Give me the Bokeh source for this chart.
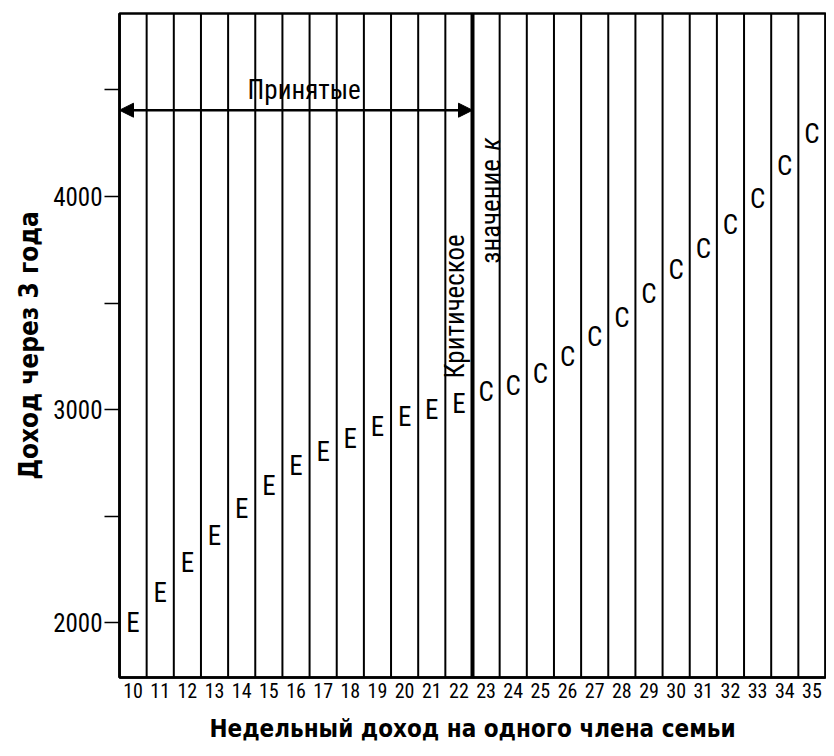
import math
from bokeh.plotting import figure
from bokeh.models import Range1d, Span, Arrow, NormalHead, Label, FixedTicker, ColumnDataSource
from bokeh.core.properties import value
from bokeh.embed import file_html
from bokeh.resources import INLINE

# ---- data ----
incomes = [10, 11, 12, 13, 14, 15, 16, 17, 18, 19, 20, 21, 22,
           23, 24, 25, 26, 27, 28, 29, 30, 31, 32, 33, 34, 35]
income_3yr = [2000, 2140, 2280, 2405, 2535, 2640, 2735, 2800, 2860, 2920, 2965, 3000, 3025,
              3080, 3110, 3165, 3245, 3340, 3430, 3540, 3655, 3755, 3865, 3990, 4145, 4295]
letters = ["E", "E", "E", "E", "E", "E", "E", "E", "E", "E", "E", "E", "E",
           "C", "C", "C", "C", "C", "C", "C", "C", "C", "C", "C", "C", "C"]
y_ticks = [2000, 2500, 3000, 3500, 4000, 4500]
y_tick_labels = {2000: "2000", 2500: "", 3000: "3000", 3500: "", 4000: "4000", 4500: ""}
critical_k = 22.5
accepted_y = 4405
title_x = "Недельный доход на одного члена семьи"
title_y = "Доход через 3 года"

FONT = "DejaVu Sans Condensed"
NARROW = "Roboto Condensed"

p = figure(width=826, height=748, output_backend="svg", toolbar_location=None,
           x_range=Range1d(incomes[0] - 0.5, incomes[-1] + 0.5),
           y_range=Range1d(1742, 4859),
           min_border_left=119, min_border_right=1, min_border_top=13, min_border_bottom=71)
p.grid.visible = False
p.outline_line_color = "black"
p.outline_line_width = 2.5
p.background_fill_color = "white"
p.border_fill_color = "white"

# column boundary lines
bounds = [c - 0.5 for c in incomes] + [incomes[-1] + 0.5]
for b in bounds:
    w = 4 if abs(b - critical_k) < 1e-9 else 2
    p.add_layout(Span(location=b, dimension="height", line_color="black", line_width=w))

src = ColumnDataSource(dict(x=incomes, y=income_3yr, t=letters))
p.text(x="x", y="y", text="t", source=src, text_align="center", text_baseline="middle",
       text_font=value(NARROW), text_font_size="27px", text_color="black")

# arrow "Принятые"
p.add_layout(Arrow(x_start=incomes[0] - 0.5, x_end=critical_k, y_start=accepted_y, y_end=accepted_y,
                   line_width=2.5, line_color="black",
                   start=NormalHead(size=14, fill_color="black", line_color="black"),
                   end=NormalHead(size=14, fill_color="black", line_color="black")))
p.add_layout(Label(x=(incomes[0] - 0.5 + critical_k) / 2 + 0.3, y=accepted_y, y_offset=4,
                   text="Принятые", text_align="center", text_baseline="bottom",
                   text_font=NARROW, text_font_size="27px", text_color="black"))

# critical value labels
p.add_layout(Label(x=critical_k, y=3484, x_offset=-2, angle=math.pi / 2,
                   text="Критическое", text_align="center", text_baseline="bottom",
                   text_font=NARROW, text_font_size="27px", text_color="black"))
p.add_layout(Label(x=critical_k, y=3930, x_offset=2, angle=math.pi / 2,
                   text="значение", text_align="center", text_baseline="top",
                   text_font=NARROW, text_font_size="27px", text_color="black"))
p.add_layout(Label(x=critical_k, y=4245, x_offset=2, angle=math.pi / 2,
                   text="к", text_align="center", text_baseline="top",
                   text_font=NARROW, text_font_style="italic",
                   text_font_size="27px", text_color="black"))

# axes
p.xaxis.ticker = FixedTicker(ticks=incomes)
p.xaxis.major_tick_out = 0
p.xaxis.major_tick_in = 0
p.xaxis.minor_tick_line_color = None
p.xaxis.axis_line_width = 2.5
p.xaxis.major_label_standoff = 5
p.xaxis.major_label_text_font = NARROW
p.xaxis.major_label_text_font_size = "20px"
p.xaxis.major_label_text_color = "black"
p.xaxis.axis_label = title_x
p.xaxis.axis_label_text_font = FONT
p.xaxis.axis_label_text_font_style = "bold"
p.xaxis.axis_label_text_font_size = "24px"
p.xaxis.axis_label_text_color = "black"
p.xaxis.axis_label_standoff = 14

p.yaxis.ticker = FixedTicker(ticks=y_ticks)
p.yaxis.major_label_overrides = y_tick_labels
p.yaxis.minor_tick_line_color = None
p.yaxis.major_tick_out = 15
p.yaxis.major_tick_in = 0
p.yaxis.major_tick_line_width = 1.5
p.yaxis.axis_line_width = 2.5
p.yaxis.major_label_standoff = 2
p.yaxis.major_label_text_font = NARROW
p.yaxis.major_label_text_font_size = "25px"
p.yaxis.major_label_text_color = "black"
p.yaxis.axis_label = title_y
p.yaxis.axis_label_text_font = FONT
p.yaxis.axis_label_text_font_style = "bold"
p.yaxis.axis_label_text_font_size = "26px"
p.yaxis.axis_label_text_color = "black"
p.yaxis.axis_label_standoff = 6

open("out.html", "w").write(file_html(p, INLINE))
